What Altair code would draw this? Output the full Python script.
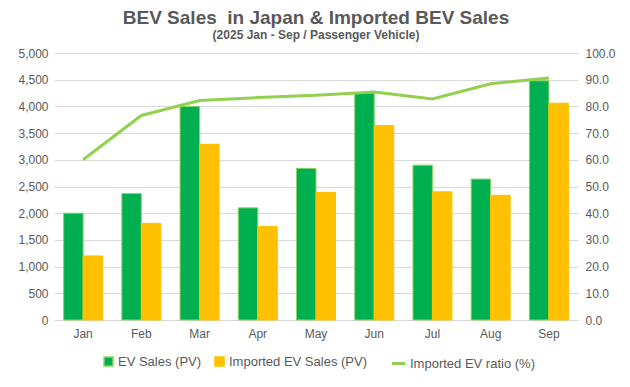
import altair as alt
import pandas as pd

months = ["Jan", "Feb", "Mar", "Apr", "May", "Jun", "Jul", "Aug", "Sep"]
ev_sales = [2000, 2370, 4000, 2100, 2840, 4260, 2900, 2640, 4480]
imported_sales = [1200, 1810, 3290, 1750, 2390, 3640, 2400, 2335, 4060]
imported_ratio = [60.0, 76.6, 82.2, 83.3, 84.2, 85.4, 82.8, 88.5, 90.6]
bar_series = ["EV Sales (PV)", "Imported EV Sales (PV)"]
line_series = ["Imported EV ratio (%)"]
left_ticks = [0, 500, 1000, 1500, 2000, 2500, 3000, 3500, 4000, 4500, 5000]
right_ticks = [0, 10, 20, 30, 40, 50, 60, 70, 80, 90, 100]

bars_df = pd.DataFrame({
    "month": months * 2,
    "series": [bar_series[0]] * len(months) + [bar_series[1]] * len(months),
    "sales": ev_sales + imported_sales,
})
line_df = pd.DataFrame({
    "month": months,
    "ratio": imported_ratio,
    "series": line_series * len(months),
})

FONT = "Liberation Sans"
GRAY = "#595959"
GRID = "#D9D9D9"

x_enc = alt.X(
    "month:N", sort=months,
    scale=alt.Scale(paddingInner=0.33, paddingOuter=0.165),
    axis=alt.Axis(title=None, labelAngle=0, ticks=False, domain=True,
                  domainColor=GRID, labelPadding=8, grid=False),
)

bars = alt.Chart(bars_df).mark_bar(strokeWidth=1).encode(
    x=x_enc,
    xOffset=alt.XOffset("series:N", sort=bar_series),
    y=alt.Y("sales:Q", scale=alt.Scale(domain=[0, 5000]),
            axis=alt.Axis(title=None, values=left_ticks, format=",d",
                          ticks=False, domain=False, gridColor=GRID,
                          labelPadding=6)),
    fill=alt.Fill("series:N", sort=bar_series,
                  scale=alt.Scale(domain=bar_series, range=["#00B050", "#FFC000"]),
                  legend=alt.Legend(title=None, orient="none", direction="horizontal",
                                    legendX=48, legendY=302, symbolType="square",
                                    symbolSize=81, columnPadding=10, labelOffset=3)),
    stroke=alt.Stroke("series:N",
                      scale=alt.Scale(domain=bar_series, range=["#8FD460", "#FFC000"]),
                      legend=None),
)

line = alt.Chart(line_df).mark_line(strokeWidth=3).encode(
    x=x_enc,
    y=alt.Y("ratio:Q", scale=alt.Scale(domain=[0, 100]),
            axis=alt.Axis(orient="right", title=None, values=right_ticks, format=".1f",
                          ticks=False, domain=False, grid=False, labelPadding=7)),
    color=alt.Color("series:N",
                    scale=alt.Scale(domain=line_series, range=["#92D050"]),
                    legend=alt.Legend(title=None, orient="none", legendX=336, legendY=302,
                                      symbolType="stroke", symbolSize=170,
                                      symbolStrokeWidth=3, labelOffset=3)),
)

chart = alt.layer(bars, line).resolve_scale(y="independent").properties(
    width=524,
    height=267,
    padding={"left": 9, "top": 1, "right": 5, "bottom": 5},
    title=alt.TitleParams(
        text="BEV Sales\u00a0 in Japan & Imported BEV Sales",
        subtitle="(2025 Jan - Sep / Passenger Vehicle)",
        fontSize=19, fontWeight="bold", color=GRAY, font=FONT,
        subtitleFontSize=12, subtitleFontWeight="bold", subtitleColor=GRAY,
        subtitleFont=FONT, anchor="middle", offset=6, subtitlePadding=2,
    ),
).configure_view(stroke=None).configure_axis(
    labelFont=FONT, labelFontSize=12, labelColor=GRAY,
).configure_legend(
    labelFont=FONT, labelFontSize=13, labelColor=GRAY,
)

chart.save("out.html", embed_options={"renderer": "svg", "actions": False})
